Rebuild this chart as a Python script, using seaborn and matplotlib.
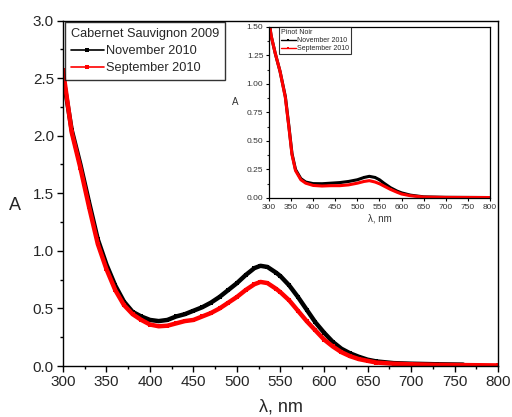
import numpy as np
import pandas as pd
import matplotlib
matplotlib.use("Agg")
import matplotlib.pyplot as plt
import seaborn as sns
from matplotlib.ticker import MultipleLocator

# ---- Main chart: Cabernet Sauvignon 2009 ----
cab_nov_wl = [300, 310, 320, 330, 340, 350, 360, 370, 380, 390, 400, 410, 420, 430, 440,
              450, 460, 470, 480, 490, 500, 510, 520, 527, 535, 545, 550, 560, 570, 580,
              590, 600, 610, 620, 630, 640, 650, 660, 680, 700, 730, 760]
cab_nov_a = [2.52, 2.05, 1.75, 1.42, 1.10, 0.88, 0.70, 0.56, 0.47, 0.43, 0.40, 0.39, 0.40,
             0.43, 0.45, 0.48, 0.51, 0.55, 0.60, 0.66, 0.72, 0.79, 0.85, 0.87, 0.86, 0.81,
             0.78, 0.70, 0.60, 0.49, 0.38, 0.29, 0.21, 0.15, 0.11, 0.08, 0.055, 0.04, 0.025,
             0.02, 0.015, 0.012]
cab_sep_wl = [300, 310, 320, 330, 340, 350, 360, 370, 380, 390, 400, 410, 420, 430, 440,
              450, 460, 470, 480, 490, 500, 510, 520, 527, 535, 545, 550, 560, 570, 580,
              590, 600, 610, 620, 630, 640, 650, 660, 680, 700, 730, 760, 800]
cab_sep_a = [2.57, 2.03, 1.72, 1.38, 1.06, 0.84, 0.66, 0.53, 0.45, 0.40, 0.36, 0.345, 0.35,
             0.37, 0.39, 0.40, 0.43, 0.46, 0.50, 0.55, 0.60, 0.66, 0.71, 0.73, 0.72, 0.67,
             0.64, 0.57, 0.48, 0.39, 0.31, 0.23, 0.17, 0.12, 0.085, 0.06, 0.045, 0.03, 0.02,
             0.015, 0.01, 0.008, 0.005]

# ---- Inset: Pinot Noir ----
pin_wl = [300, 305, 314, 325, 337, 345, 352, 360, 372, 383, 400, 420, 440, 460, 480, 500,
          515, 527, 540, 550, 560, 575, 590, 600, 620, 650, 700, 800]
pin_nov_a = [1.55, 1.42, 1.27, 1.11, 0.89, 0.63, 0.39, 0.25, 0.17, 0.14, 0.126, 0.125,
             0.13, 0.135, 0.145, 0.16, 0.18, 0.19, 0.18, 0.16, 0.13, 0.09, 0.06, 0.045,
             0.025, 0.01, 0.006, 0.004]
pin_sep_a = [1.55, 1.42, 1.27, 1.11, 0.88, 0.62, 0.38, 0.24, 0.16, 0.13, 0.11, 0.105,
             0.108, 0.108, 0.115, 0.13, 0.145, 0.152, 0.14, 0.125, 0.105, 0.075, 0.05,
             0.035, 0.02, 0.008, 0.005, 0.004]

series_labels = ["November 2010", "September 2010"]
colors = {"November 2010": "black", "September 2010": "#ff0000"}

cab = pd.concat([
    pd.DataFrame({"wl": cab_nov_wl, "A": cab_nov_a, "series": series_labels[0]}),
    pd.DataFrame({"wl": cab_sep_wl, "A": cab_sep_a, "series": series_labels[1]}),
])
pin = pd.concat([
    pd.DataFrame({"wl": pin_wl, "A": pin_nov_a, "series": series_labels[0]}),
    pd.DataFrame({"wl": pin_wl, "A": pin_sep_a, "series": series_labels[1]}),
])

sns.set_theme(style="ticks")
plt.rcParams["font.family"] = ["Liberation Sans", "DejaVu Sans"]

fig = plt.figure(figsize=(5.12, 4.17), dpi=100)
ax = fig.add_axes([0.123, 0.1223, 0.8497, 0.8285])

for s in series_labels:
    d = cab[cab.series == s]
    sns.lineplot(data=d, x="wl", y="A", ax=ax, color=colors[s], linewidth=3.2,
                 marker="s", markersize=2.5, markeredgewidth=0, label=s, sort=False)

ax.set_xlim(300, 800)
ax.set_ylim(0, 3.0)
ax.xaxis.set_major_locator(MultipleLocator(50))
ax.xaxis.set_minor_locator(MultipleLocator(25))
ax.yaxis.set_major_locator(MultipleLocator(0.5))
ax.yaxis.set_minor_locator(MultipleLocator(0.25))
ax.yaxis.set_major_formatter(matplotlib.ticker.FormatStrFormatter("%.1f"))
ax.tick_params(axis="both", which="major", length=4, width=1, labelsize=11, direction="out",
               color="black", pad=2.5)
ax.tick_params(axis="both", which="minor", length=2.5, width=1, direction="out", color="black")
for sp in ax.spines.values():
    sp.set_visible(True)
    sp.set_color("black")
    sp.set_linewidth(1)
ax.set_xlabel("λ, nm", fontsize=13, labelpad=7)
ax.set_ylabel("A", fontsize=13, rotation=0)
ax.yaxis.set_label_coords(-0.11, 0.44)

leg = ax.legend(title="Cabernet Sauvignon 2009", loc="upper left", bbox_to_anchor=(0, 1),
                borderaxespad=0.15, fontsize=9.2, title_fontsize=9.2, frameon=True,
                fancybox=False, edgecolor="black", handlelength=2.6, handletextpad=0.2,
                borderpad=0.45, labelspacing=0.4)
leg.get_frame().set_linewidth(1)
leg._legend_box.align = "left"
for line in leg.get_lines():
    line.set_linewidth(1.2)
    line.set_markersize(3)

# ---- Inset ----
ax2 = fig.add_axes([0.5254, 0.5252, 0.4316, 0.4101])
for s in series_labels:
    d = pin[pin.series == s]
    sns.lineplot(data=d, x="wl", y="A", ax=ax2, color=colors[s], linewidth=2.2,
                 marker="s", markersize=1.5, markeredgewidth=0, label=s, sort=False)
ax2.set_xlim(300, 800)
ax2.set_ylim(0, 1.5)
ax2.xaxis.set_major_locator(MultipleLocator(50))
ax2.yaxis.set_major_locator(MultipleLocator(0.25))
ax2.yaxis.set_minor_locator(MultipleLocator(0.125))
ax2.yaxis.set_major_formatter(matplotlib.ticker.FormatStrFormatter("%.2f"))
ax2.tick_params(axis="both", which="major", length=2.5, width=0.8, labelsize=6, pad=1.5,
                direction="out", color="black", labelcolor="#333333")
ax2.tick_params(axis="y", which="minor", length=1.5, width=0.8, direction="out")
for sp in ax2.spines.values():
    sp.set_visible(True)
    sp.set_color("black")
    sp.set_linewidth(0.9)
ax2.set_xlabel("λ, nm", fontsize=7, labelpad=2, color="#333333")
ax2.set_ylabel("A", fontsize=7, rotation=0, color="#333333")
ax2.yaxis.set_label_coords(-0.155, 0.53)
leg2 = ax2.legend(title="Pinot Noir", loc="upper left", bbox_to_anchor=(0.043, 1),
                  borderaxespad=0, fontsize=5, title_fontsize=5, frameon=True,
                  fancybox=False, edgecolor="black", handlelength=2.2, handletextpad=0.2,
                  borderpad=0.3, labelspacing=0.15)
leg2.get_frame().set_linewidth(0.8)
leg2._legend_box.align = "left"
for line in leg2.get_lines():
    line.set_linewidth(1.0)
    line.set_markersize(2)

fig.savefig("out.png", dpi=100)
